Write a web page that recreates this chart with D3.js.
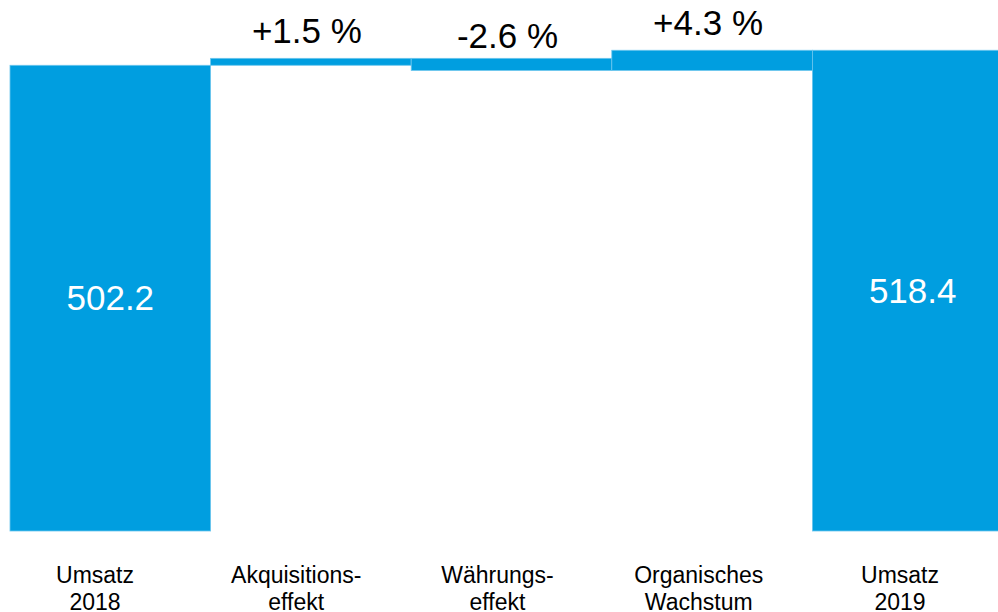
<!DOCTYPE html>
<html>
<head>
<meta charset="utf-8">
<script src="https://cdn.jsdelivr.net/npm/d3@7"></script>
<style>
  html, body { margin: 0; padding: 0; background: #ffffff; overflow: hidden; }
  svg { display: block; }
  text { font-family: "Liberation Sans", Arial, sans-serif; }
</style>
</head>
<body>
<svg id="chart" width="998" height="612"></svg>
<script>
// ---- data ----
const categories = [["Umsatz", "2018"], ["Akquisitions-", "effekt"], ["Währungs-", "effekt"], ["Organisches", "Wachstum"], ["Umsatz", "2019"]];
const kinds = ["total", "delta", "delta", "delta", "total"];
const values = [502.2, 7.5, -13.1, 21.8, 518.4];
const valueLabels = ["502.2", "+1.5 %", "-2.6 %", "+4.3 %", "518.4"];

// ---- build waterfall rows ----
let running = 0;
const rows = categories.map((c, i) => {
  let start, end;
  if (kinds[i] === "total") { start = 0; end = values[i]; running = values[i]; }
  else { start = running; end = running + values[i]; running = end; }
  return { key: c.join(" "), lines: c, kind: kinds[i], value: values[i], start, end, label: valueLabels[i] };
});

const svg = d3.select("#chart");

const x = d3.scaleBand().domain(rows.map(d => d.key)).range([10, 1013]).padding(0);
const y = d3.scaleLinear().domain([0, 572.6]).range([531, 0]);
const xl = d3.scalePoint().domain(rows.map(d => d.key)).range([95, 900]);

const blue = "#009ee0";

svg.append("g").selectAll("rect").data(rows).join("rect")
  .attr("x", d => x(d.key))
  .attr("width", x.bandwidth())
  .attr("y", d => y(Math.max(d.start, d.end)))
  .attr("height", d => Math.abs(y(d.start) - y(d.end)))
  .attr("fill", blue)
  .attr("stroke", "#6cc6ee")
  .attr("stroke-width", 0.8);

// total value labels (inside bars, white)
svg.append("g").selectAll("text").data(rows.filter(d => d.kind === "total")).join("text")
  .attr("x", d => x(d.key) + x.bandwidth() / 2)
  .attr("y", d => (y(d.start) + y(d.end)) / 2 + 12)
  .attr("text-anchor", "middle")
  .attr("fill", "#ffffff")
  .attr("font-size", 35)
  .text(d => d.label);

// delta labels (above bars)
svg.append("g").selectAll("text").data(rows.filter(d => d.kind === "delta")).join("text")
  .attr("x", d => x(d.key) + x.bandwidth() / 2 - 4)
  .attr("y", d => d.value >= 0 ? y(d.end) - 15 : y(d.end) - 22)
  .attr("text-anchor", "middle")
  .attr("fill", "#000000")
  .attr("font-size", 35)
  .text(d => d.label);

// category labels
const cat = svg.append("g").selectAll("text").data(rows).join("text")
  .attr("x", d => xl(d.key))
  .attr("y", 583)
  .attr("text-anchor", "middle")
  .attr("fill", "#000000")
  .attr("font-size", 23);
cat.selectAll("tspan").data(d => d.lines.map(l => ({ l, x: xl(d.key) }))).join("tspan")
  .attr("x", t => t.x)
  .attr("dy", (t, i) => i === 0 ? 0 : 27)
  .text(t => t.l);
</script>
</body>
</html>
